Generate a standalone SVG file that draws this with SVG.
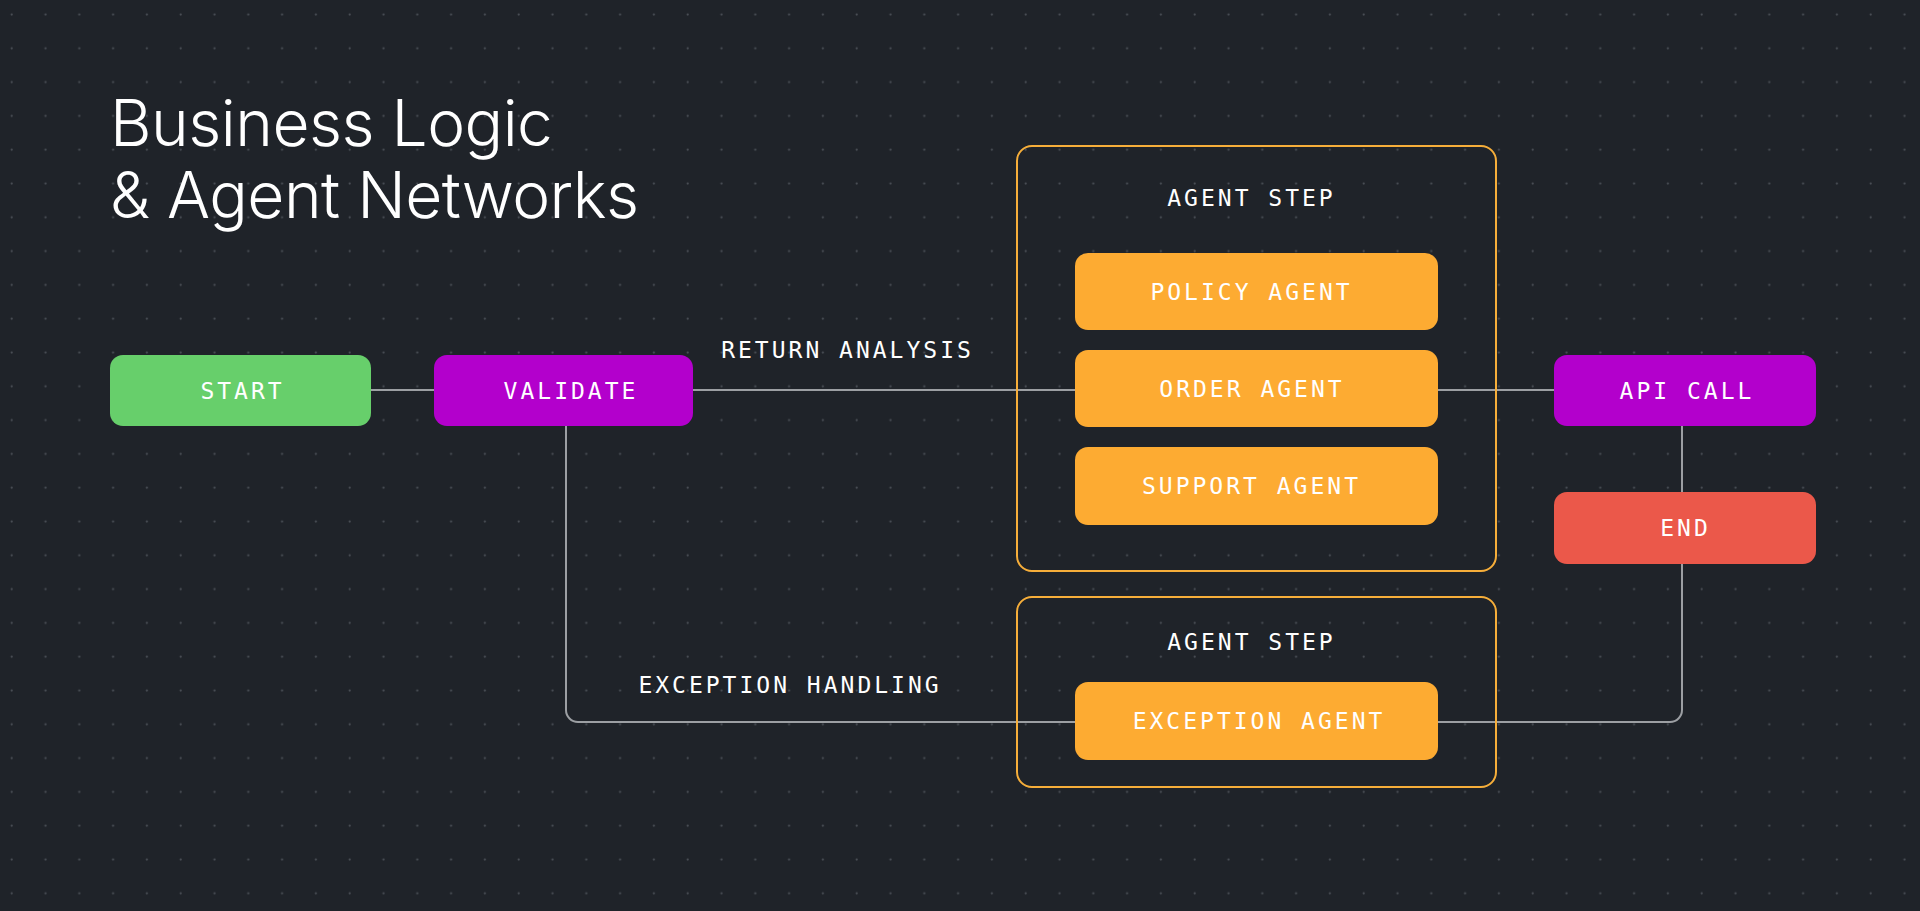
<svg xmlns="http://www.w3.org/2000/svg" width="1920" height="911" viewBox="0 0 1920 911">
  <defs>
    <pattern id="dots" patternUnits="userSpaceOnUse" x="0" y="0" width="33.8" height="33.8">
      <circle cx="11.7" cy="14.5" r="1.1" fill="#4a4f56"/>
    </pattern>
    <style>
      .title { font-family: Inter, "Noto Sans", sans-serif; font-weight: 300; font-size: 64px; fill: #ffffff; letter-spacing: -0.5px; }
      .lbl { font-family: "DejaVu Sans Mono", "Liberation Mono", monospace; font-size: 23px; fill: #ffffff; letter-spacing: 3px; text-anchor: middle; }
      .node { stroke: none; }
      .start { fill: #67cf6b; }
      .purple { fill: #b300cc; }
      .end { fill: #eb584a; }
      .agent { fill: #fdab32; }
      .step { fill: none; stroke: #f6ae3a; stroke-width: 2; }
      .conn { fill: none; stroke: #9c9fa3; stroke-width: 2; }
    </style>
  </defs>
  <rect width="1920" height="911" fill="#1f2329"/>
  <rect width="1920" height="911" fill="url(#dots)"/>

  <g id="title">
    <text class="title" x="110" y="146">Business Logic</text>
    <text class="title" x="110" y="218">&amp; Agent Networks</text>
  </g>

  <g id="connectors">
    <line class="conn" x1="371" y1="390" x2="434" y2="390"/>
    <line class="conn" x1="693" y1="390" x2="1076" y2="390"/>
    <line class="conn" x1="1438" y1="390" x2="1554" y2="390"/>
    <line class="conn" x1="1682" y1="425" x2="1682" y2="492"/>
    <path class="conn" d="M1682 563 V710 A12 12 0 0 1 1670 722 H1438"/>
    <path class="conn" d="M566 425 V710 A12 12 0 0 0 578 722 H1076"/>
    <text class="lbl" x="847.5" y="358">RETURN ANALYSIS</text>
    <text class="lbl" x="790" y="693">EXCEPTION HANDLING</text>
  </g>

  <g id="step1">
    <rect class="step" x="1017" y="146" width="479" height="425" rx="15"/>
    <text class="lbl" x="1251.5" y="206">AGENT STEP</text>
  </g>
  <g id="step2">
    <rect class="step" x="1017" y="597" width="479" height="190" rx="15"/>
    <text class="lbl" x="1251.5" y="650">AGENT STEP</text>
  </g>

  <g id="start">
    <rect class="node start" x="110" y="355" width="261" height="71" rx="13"/>
    <text class="lbl" x="242.5" y="399">START</text>
  </g>
  <g id="validate">
    <rect class="node purple" x="434" y="355" width="259" height="71" rx="13"/>
    <text class="lbl" x="571" y="399">VALIDATE</text>
  </g>
  <g id="policy">
    <rect class="node agent" x="1075" y="253" width="363" height="77" rx="13"/>
    <text class="lbl" x="1251.5" y="300">POLICY AGENT</text>
  </g>
  <g id="order">
    <rect class="node agent" x="1075" y="350" width="363" height="77" rx="13"/>
    <text class="lbl" x="1252" y="397">ORDER AGENT</text>
  </g>
  <g id="support">
    <rect class="node agent" x="1075" y="447" width="363" height="78" rx="13"/>
    <text class="lbl" x="1251.5" y="494">SUPPORT AGENT</text>
  </g>
  <g id="exception">
    <rect class="node agent" x="1075" y="682" width="363" height="78" rx="13"/>
    <text class="lbl" x="1259" y="729">EXCEPTION AGENT</text>
  </g>
  <g id="apicall">
    <rect class="node purple" x="1554" y="355" width="262" height="71" rx="13"/>
    <text class="lbl" x="1687" y="399">API CALL</text>
  </g>
  <g id="end">
    <rect class="node end" x="1554" y="492" width="262" height="72" rx="13"/>
    <text class="lbl" x="1685.5" y="536">END</text>
  </g>
</svg>
